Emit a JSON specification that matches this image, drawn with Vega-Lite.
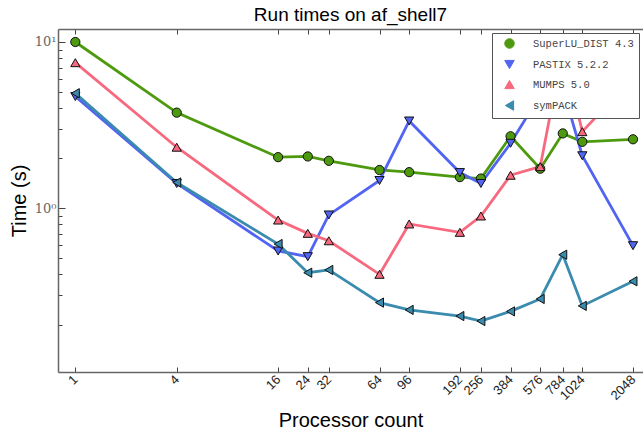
{
  "$schema": "https://vega.github.io/schema/vega-lite/v6.json",
  "autosize": "none",
  "width": 585,
  "height": 343,
  "padding": {"left": 58, "top": 29, "right": 0, "bottom": 59},
  "background": "white",
  "config": {
    "view": {"stroke": null},
    "font": "Liberation Sans",
    "legend": {
      "title": null,
      "orient": "top-right",
      "offset": 4,
      "padding": 5,
      "fillColor": "white",
      "strokeColor": "#555",
      "labelFont": "Liberation Mono",
      "labelFontSize": 10.5,
      "labelColor": "#444",
      "symbolStrokeColor": "#111",
      "symbolStrokeWidth": 1,
      "symbolSize": 90,
      "symbolOffset": 7,
      "rowPadding": 7,
      "labelOffset": 18
    }
  },
  "title": {
    "text": "Run times on af_shell7",
    "font": "Liberation Sans",
    "fontSize": 19,
    "fontWeight": "normal",
    "color": "#000",
    "offset": 4
  },
  "data": {
    "values": [
      {"p": 1, "solver": "SuperLU_DIST 4.3", "t": 10.0},
      {"p": 4, "solver": "SuperLU_DIST 4.3", "t": 3.76},
      {"p": 16, "solver": "SuperLU_DIST 4.3", "t": 2.03},
      {"p": 24, "solver": "SuperLU_DIST 4.3", "t": 2.05},
      {"p": 32, "solver": "SuperLU_DIST 4.3", "t": 1.93},
      {"p": 64, "solver": "SuperLU_DIST 4.3", "t": 1.70},
      {"p": 96, "solver": "SuperLU_DIST 4.3", "t": 1.65},
      {"p": 192, "solver": "SuperLU_DIST 4.3", "t": 1.54},
      {"p": 256, "solver": "SuperLU_DIST 4.3", "t": 1.51},
      {"p": 384, "solver": "SuperLU_DIST 4.3", "t": 2.71},
      {"p": 576, "solver": "SuperLU_DIST 4.3", "t": 1.73},
      {"p": 784, "solver": "SuperLU_DIST 4.3", "t": 2.82},
      {"p": 1024, "solver": "SuperLU_DIST 4.3", "t": 2.51},
      {"p": 2048, "solver": "SuperLU_DIST 4.3", "t": 2.60},
      {"p": 1, "solver": "PASTIX 5.2.2", "t": 4.70},
      {"p": 4, "solver": "PASTIX 5.2.2", "t": 1.41},
      {"p": 16, "solver": "PASTIX 5.2.2", "t": 0.554},
      {"p": 24, "solver": "PASTIX 5.2.2", "t": 0.512},
      {"p": 32, "solver": "PASTIX 5.2.2", "t": 0.912},
      {"p": 64, "solver": "PASTIX 5.2.2", "t": 1.47},
      {"p": 96, "solver": "PASTIX 5.2.2", "t": 3.35},
      {"p": 192, "solver": "PASTIX 5.2.2", "t": 1.64},
      {"p": 256, "solver": "PASTIX 5.2.2", "t": 1.41},
      {"p": 384, "solver": "PASTIX 5.2.2", "t": 2.46},
      {"p": 576, "solver": "PASTIX 5.2.2", "t": 4.80},
      {"p": 784, "solver": "PASTIX 5.2.2", "t": 5.27},
      {"p": 1024, "solver": "PASTIX 5.2.2", "t": 2.07},
      {"p": 2048, "solver": "PASTIX 5.2.2", "t": 0.596},
      {"p": 1, "solver": "MUMPS 5.0", "t": 7.51},
      {"p": 4, "solver": "MUMPS 5.0", "t": 2.33},
      {"p": 16, "solver": "MUMPS 5.0", "t": 0.85},
      {"p": 24, "solver": "MUMPS 5.0", "t": 0.707},
      {"p": 32, "solver": "MUMPS 5.0", "t": 0.638},
      {"p": 64, "solver": "MUMPS 5.0", "t": 0.401},
      {"p": 96, "solver": "MUMPS 5.0", "t": 0.805},
      {"p": 192, "solver": "MUMPS 5.0", "t": 0.717},
      {"p": 256, "solver": "MUMPS 5.0", "t": 0.899},
      {"p": 384, "solver": "MUMPS 5.0", "t": 1.58},
      {"p": 576, "solver": "MUMPS 5.0", "t": 1.78},
      {"p": 784, "solver": "MUMPS 5.0", "t": 9.0},
      {"p": 1024, "solver": "MUMPS 5.0", "t": 2.89},
      {"p": 2048, "solver": "MUMPS 5.0", "t": 6.14},
      {"p": 1, "solver": "symPACK", "t": 4.92},
      {"p": 4, "solver": "symPACK", "t": 1.43},
      {"p": 16, "solver": "symPACK", "t": 0.61},
      {"p": 24, "solver": "symPACK", "t": 0.41},
      {"p": 32, "solver": "symPACK", "t": 0.426},
      {"p": 64, "solver": "symPACK", "t": 0.271},
      {"p": 96, "solver": "symPACK", "t": 0.245},
      {"p": 192, "solver": "symPACK", "t": 0.225},
      {"p": 256, "solver": "symPACK", "t": 0.210},
      {"p": 384, "solver": "symPACK", "t": 0.240},
      {"p": 576, "solver": "symPACK", "t": 0.285},
      {"p": 784, "solver": "symPACK", "t": 0.526},
      {"p": 1024, "solver": "symPACK", "t": 0.259},
      {"p": 2048, "solver": "symPACK", "t": 0.364}
    ]
  },
  "resolve": {"axis": {"x": "independent", "y": "independent"}},
  "layer": [
    {
      "mark": {"type": "line", "strokeWidth": 2.8},
      "encoding": {
        "x": {
          "field": "p", "type": "quantitative",
          "scale": {"type": "log", "domain": [0.789, 2348], "nice": false},
          "axis": {
            "orient": "bottom",
            "values": [1, 4, 16, 24, 32, 64, 96, 192, 256, 384, 576, 784, 1024, 2048],
            "title": "Processor count",
            "titleFont": "Liberation Sans",
            "titleFontSize": 20,
            "titleFontWeight": "normal",
            "titleColor": "#000",
            "titlePadding": 8,
            "labelAngle": -45,
            "labelAlign": "right",
            "labelBaseline": "middle",
            "labelFont": "Liberation Sans",
            "labelFontSize": 13,
            "labelColor": "#222",
            "labelPadding": 10,
            "labelFlush": false,
            "labelOverlap": false,
            "format": "d",
            "grid": false,
            "domainColor": "#666",
            "domainWidth": 1.5,
            "tickColor": "#444",
            "tickSize": -5,
            "tickWidth": 1
          }
        },
        "y": {
          "field": "t", "type": "quantitative",
          "scale": {"type": "log", "domain": [0.1037, 11.97], "nice": false},
          "axis": {
            "orient": "left",
            "values": [0.2, 0.3, 0.4, 0.5, 0.6, 0.7, 0.8, 0.9, 1, 2, 3, 4, 5, 6, 7, 8, 9, 10],
            "labelExpr": "datum.value == 1 ? '10⁰' : (datum.value == 10 ? '10¹' : '')",
            "title": "Time (s)",
            "titleFont": "Liberation Sans",
            "titleFontSize": 20,
            "titleFontWeight": "normal",
            "titleColor": "#000",
            "titlePadding": 5,
            "labelFont": "DejaVu Serif",
            "labelFontSize": 13,
            "labelColor": "#666",
            "labelPadding": 9,
            "grid": false,
            "domainColor": "#666",
            "domainWidth": 1.5,
            "tickColor": "#444",
            "tickSize": {"condition": {"test": "datum.value == 1 || datum.value == 10", "value": -7}, "value": -4},
            "tickWidth": 1
          }
        },
        "color": {
          "field": "solver", "type": "nominal",
          "scale": {
            "domain": ["SuperLU_DIST 4.3", "PASTIX 5.2.2", "MUMPS 5.0", "symPACK"],
            "range": ["#4e9a0f", "#5264f2", "#f7697f", "#3a8bad"]
          }
        }
      }
    },
    {
      "mark": {"type": "point", "filled": true, "opacity": 1, "stroke": "#111", "strokeWidth": 1, "size": 85},
      "encoding": {
        "x": {
          "field": "p", "type": "quantitative",
          "axis": {
            "orient": "top",
            "values": [1, 4, 16, 24, 32, 64, 96, 192, 256, 384, 576, 784, 1024, 2048],
            "labels": false,
            "title": null,
            "grid": false,
            "domainColor": "#666",
            "domainWidth": 1.5,
            "tickColor": "#444",
            "tickSize": -5
          }
        },
        "y": {"field": "t", "type": "quantitative", "axis": null},
        "color": {"field": "solver", "type": "nominal"},
        "shape": {
          "field": "solver", "type": "nominal",
          "scale": {
            "domain": ["SuperLU_DIST 4.3", "PASTIX 5.2.2", "MUMPS 5.0", "symPACK"],
            "range": ["circle", "triangle-down", "triangle-up", "triangle-left"]
          }
        }
      }
    }
  ]
}
